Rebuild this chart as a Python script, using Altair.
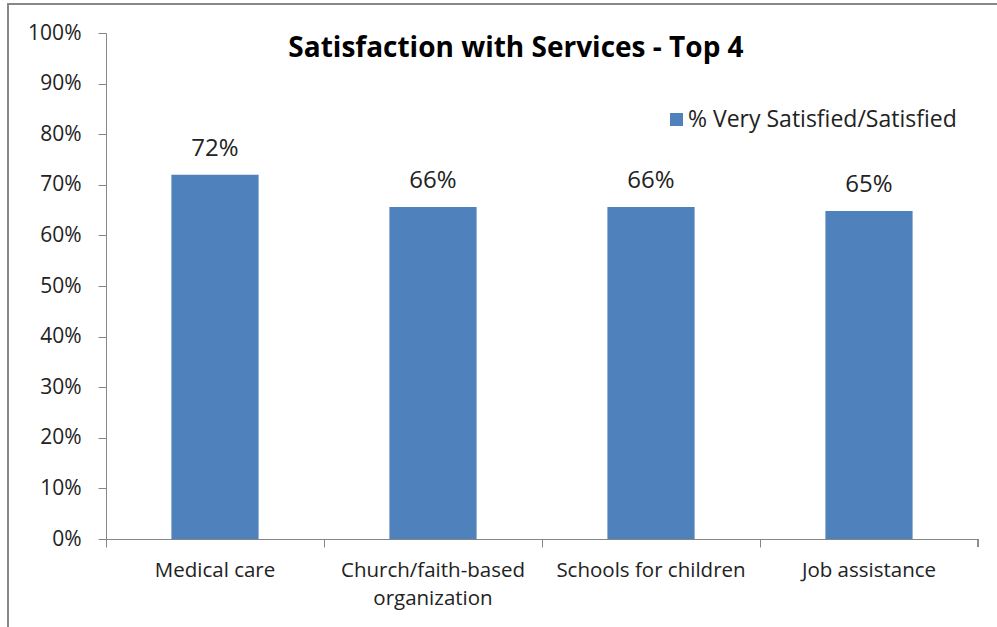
import altair as alt
import pandas as pd

categories = ["Medical care", "Church/faith-based organization", "Schools for children", "Job assistance"]
label_lines = [["Medical care"], ["Church/faith-based", "organization"], ["Schools for children"], ["Job assistance"]]
values = [0.72, 0.656, 0.656, 0.648]
series_name = "% Very Satisfied/Satisfied"
y_ticks = [0, 0.1, 0.2, 0.3, 0.4, 0.5, 0.6, 0.7, 0.8, 0.9, 1.0]

df = pd.DataFrame({"category": categories, "value": values, "series": series_name})

FONT = "Open Sans"
TXT = "#222222"
AXC = "#868686"
W, H = 872, 506

label_map = "{" + ", ".join(
    "'%s': [%s]" % (c, ", ".join("'%s'" % l for l in ls)) for c, ls in zip(categories, label_lines)
) + "}"

xscale = alt.Scale(domain=categories, paddingInner=0.6, paddingOuter=0.3)
yscale = alt.Scale(domain=[0, 1])
yaxis = alt.Axis(values=y_ticks, format=".0%", domainColor=AXC, tickColor=AXC,
                 tickSize=8, grid=False, labelFont=FONT, labelFontSize=21,
                 labelColor=TXT, labelPadding=17)

base = alt.Chart(df)

bars = base.mark_bar(color="#4F81BD").encode(
    x=alt.X("category:N", scale=xscale, sort=categories, title=None,
            axis=alt.Axis(orient="bottom", ticks=False, domain=False, labelAngle=0,
                          labelFont=FONT, labelFontSize=20.5, labelColor=TXT, labelPadding=21,
                          labelExpr=label_map + "[datum.label]", labelLineHeight=28,
                          labelBaseline="top", labelLimit=400)),
    y=alt.Y("value:Q", scale=yscale, title=None, axis=yaxis),
    color=alt.Color("series:N", scale=alt.Scale(range=["#4F81BD"]),
                    legend=alt.Legend(title=None, orient="none", legendX=559, legendY=75,
                                      symbolType="square", symbolSize=170, symbolStrokeWidth=0,
                                      labelOffset=0,
                                      labelFont=FONT, labelFontSize=23, labelColor=TXT,
                                      labelLimit=400)),
)

tick_axis = base.mark_bar(opacity=0).encode(
    x=alt.X("category:N", scale=xscale, sort=categories, title=None,
            axis=alt.Axis(orient="bottom", labels=False, bandPosition=-0.75, tickSize=8,
                          tickColor=AXC, domainColor=AXC, grid=False)),
    y=alt.Y("value:Q", scale=yscale, title=None, axis=yaxis),
)

texts = base.mark_text(dy=-26, font=FONT, fontSize=24, color=TXT).encode(
    x=alt.X("category:N", scale=xscale, sort=categories, axis=None),
    y=alt.Y("value:Q", scale=yscale, title=None, axis=yaxis),
    text=alt.Text("value:Q", format=".0%"),
)

end_tick = base.mark_rule(color=AXC).encode(
    x=alt.value(W), y=alt.value(H), y2=alt.value(H + 8)
)

frame = base.mark_rect(filled=False, stroke="#888888", strokeWidth=2).encode(
    x=alt.value(-98), x2=alt.value(W + 200), y=alt.value(-29), y2=alt.value(H + 200)
)

chart = alt.layer(tick_axis, bars, texts, end_tick, frame).resolve_axis(x="independent").properties(
    width=W, height=H,
    title=alt.TitleParams("Satisfaction with Services - Top 4", font=FONT, fontSize=28,
                          fontWeight="bold", color="#000000", anchor="middle", dx=-26,
                          offset=0, baseline="middle", dy=74),
    padding={"left": 106, "top": 33, "right": 19, "bottom": 88},
    autosize=alt.AutoSizeParams(type="none"),
).configure(background="white").configure_view(strokeWidth=0, stroke="transparent")

chart.save("out.html", embed_options={"renderer": "svg", "actions": False})
